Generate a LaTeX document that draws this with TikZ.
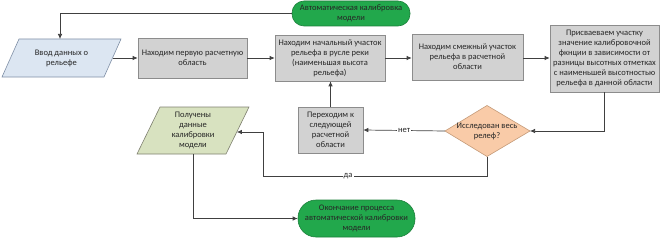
\documentclass[tikz,border=0pt]{standalone}
\usepackage{fontspec}
\setmainfont{Carlito}
\usetikzlibrary{arrows.meta,shapes.geometric,shadows}
\definecolor{grn}{HTML}{22A84C}
\definecolor{grnb}{HTML}{1B7F3A}
\definecolor{blu}{HTML}{DCE6F2}
\definecolor{blub}{HTML}{7F8FA6}
\definecolor{gry}{HTML}{D2D2D2}
\definecolor{gryb}{HTML}{8C8C8C}
\definecolor{pch}{HTML}{F9CBA8}
\definecolor{pchb}{HTML}{C49A78}
\definecolor{olv}{HTML}{D8E2C0}
\definecolor{olvb}{HTML}{7F8070}
\definecolor{ln}{HTML}{404040}
\definecolor{txt}{HTML}{262626}
\begin{document}
\begin{tikzpicture}[x=1pt,y=-1pt,
  every node/.style={font=\fontsize{8.5}{10}\selectfont, text=txt, align=center, inner sep=0pt},
  term/.style={draw=grnb, fill=grn, line width=0.6pt},
  proc/.style={draw=gryb, fill=gry, line width=0.6pt, drop shadow={shadow xshift=1pt, shadow yshift=-1pt, opacity=0.3}},
  inshape/.style={draw=blub, fill=blu, line width=0.6pt},
  outshape/.style={draw=olvb, fill=olv, line width=0.6pt},
  decshape/.style={draw=pchb, fill=pch, line width=0.6pt},
  conn/.style={draw=ln, line width=0.7pt, -{Latex[length=5pt,width=4.5pt]}},
  lbl/.style={fill=white, inner sep=1pt}
]
\useasboundingbox (0,0) rectangle (661,238);

% terminals
\node[term, rounded corners=12pt, minimum width=118, minimum height=25] (start) at (351,13.5) {Автоматическая калибровка\\модели};
\node[term, rounded corners=18pt, minimum width=117, minimum height=37] (end) at (356.5,218.5) {Окончание процесса\\автоматической калибровки\\модели};

% input parallelogram
\path[inshape] (19,39) -- (121,39) -- (104,77) -- (2,77) -- cycle;
\node (in) at (61.5,58) {Ввод данных о\\рельефе};
\coordinate (in-n) at (60,39);
\coordinate (in-e) at (112.5,58);

% process boxes
\node[proc, minimum width=109, minimum height=40] (b2) at (192.5,58) {Находим первую расчетную\\область};
\node[proc, minimum width=110, minimum height=46] (b3) at (330,58) {Находим начальный участок\\рельефа в русле реки\\(наименьшая высота\\рельефа)};
\node[proc, minimum width=111, minimum height=46] (b4) at (467.5,57) {Находим смежный участок\\рельефа в расчетной\\области};
\node[proc, minimum width=109, minimum height=67] (b5) at (604.5,58.5) {Присваеваем участку\\значение калибровочной\\фкнции в зависимости от\\разницы высотных отметках\\с наименьшей высотностью\\рельефа в данной области};
\node[proc, minimum width=65, minimum height=46] (b6) at (330.5,130) {Переходим к\\следующей\\расчетной\\области};

% decision
\path[decshape] (487,105.5) -- (530,131) -- (487,156.5) -- (445,131) -- cycle;
\node (dia) at (487,131) {Исследован весь\\релеф?};
\coordinate (dia-e) at (530,131);
\coordinate (dia-w) at (445,131);
\coordinate (dia-s) at (487,156.5);

% output parallelogram
\path[outshape] (160,107) -- (249,107) -- (226,154) -- (137,154) -- cycle;
\node (out) at (193,130.5) {Получены\\данные\\калибровки\\модели};
\coordinate (out-e) at (236.8,132);
\coordinate (out-s) at (193,154);

% connectors
\draw[conn] (start.west) -| (in-n);
\draw[conn] (in-e) -- (b2.west);
\draw[conn] (b2.east) -- (b3.west);
\draw[conn] (b3.east) -- (b4.west |- b3.east);
\draw[conn] (b4.east |- b3.east) -- (b5.west |- b3.east);
\draw[conn] (b5.south) |- (dia-e);
\draw[conn] (dia-w) -- node[lbl, pos=0.5]{нет} (b6.east);
\draw[conn] (b6.north) -- (b6.north |- b3.south);
\coordinate (c1) at (487,176);
\coordinate (c2) at (263,176);
\coordinate (c3) at (263,132);
\draw[conn] (dia-s) -- (c1) -- node[lbl, pos=0.62]{да} (c2) -- (c3) -- (out-e);
\draw[conn] (out-s) |- (end.west);
\end{tikzpicture}
\end{document}
